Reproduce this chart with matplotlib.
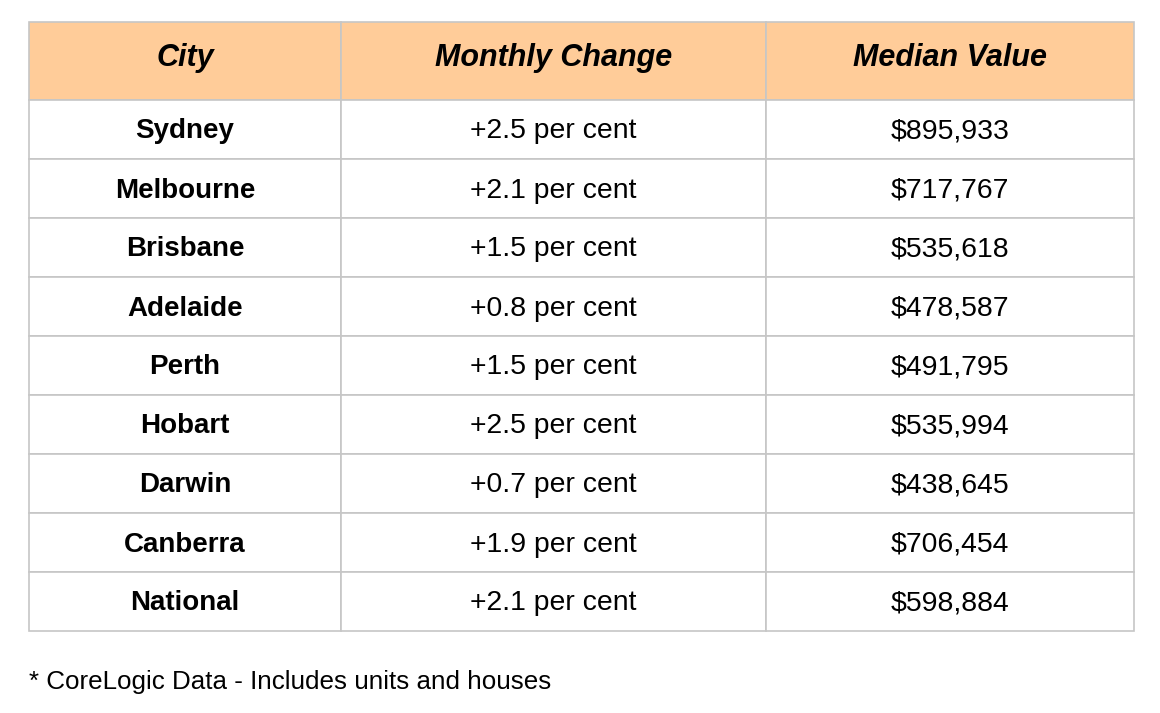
import matplotlib.pyplot as plt
from matplotlib.transforms import offset_copy, IdentityTransform

plt.rcParams['font.family'] = ['Liberation Sans', 'DejaVu Sans']

# table contents
headers = ['City', 'Monthly Change', 'Median Value']
cities = ['Sydney', 'Melbourne', 'Brisbane', 'Adelaide', 'Perth',
          'Hobart', 'Darwin', 'Canberra', 'National']
monthly_change = [2.5, 2.1, 1.5, 0.8, 1.5, 2.5, 0.7, 1.9, 2.1]
median_value = [895933, 717767, 535618, 478587, 491795,
                535994, 438645, 706454, 598884]
footnote = '* CoreLogic Data - Includes units and houses'

W, H = 1160, 713
fig = plt.figure(figsize=(W / 100, H / 100), dpi=100)
ax = fig.add_axes([0, 0, 1, 1])
ax.axis('off')

cells = [[c, '+%.1f per cent' % m, '${:,}'.format(v)]
         for c, m, v in zip(cities, monthly_change, median_value)]

# table box in pixels -> axes fraction
left, right, top, bottom = 29, 1134, 22, 631
col_w = [312, 425, 368]
head_h, row_h = 78, 59

tbl = ax.table(cellText=cells, colLabels=headers, cellLoc='center',
               colWidths=[w / sum(col_w) for w in col_w],
               bbox=[left / W, 1 - bottom / H, (right - left) / W, (bottom - top) / H])
tbl.auto_set_font_size(False)

for (r, c), cell in tbl.get_celld().items():
    cell.set_edgecolor('#c6c6c6')
    cell.set_linewidth(1.2)
    txt = cell.get_text()
    if r == 0:
        cell.set_height(head_h)
        cell.set_facecolor('#ffcc99')
        txt.set_fontsize(22)
        txt.set_fontweight('bold')
        txt.set_fontstyle('italic')
        # header text sits a little high in the original
        txt.set_transform(offset_copy(IdentityTransform(), fig, y=3, units='dots'))
    else:
        cell.set_height(row_h)
        cell.set_facecolor('white')
        if c == 0:
            txt.set_fontsize(20)
            txt.set_fontweight('bold')
        else:
            txt.set_fontsize(20.4)
        txt.set_transform(offset_copy(IdentityTransform(), fig, y=-2, units='dots'))
    txt.set_color('black')

ax.text(left / W, 1 - 682 / H, footnote, transform=ax.transAxes,
        ha='left', va='center', fontsize=18.7, color='black')

fig.savefig('out.png', dpi=100, facecolor='white')
